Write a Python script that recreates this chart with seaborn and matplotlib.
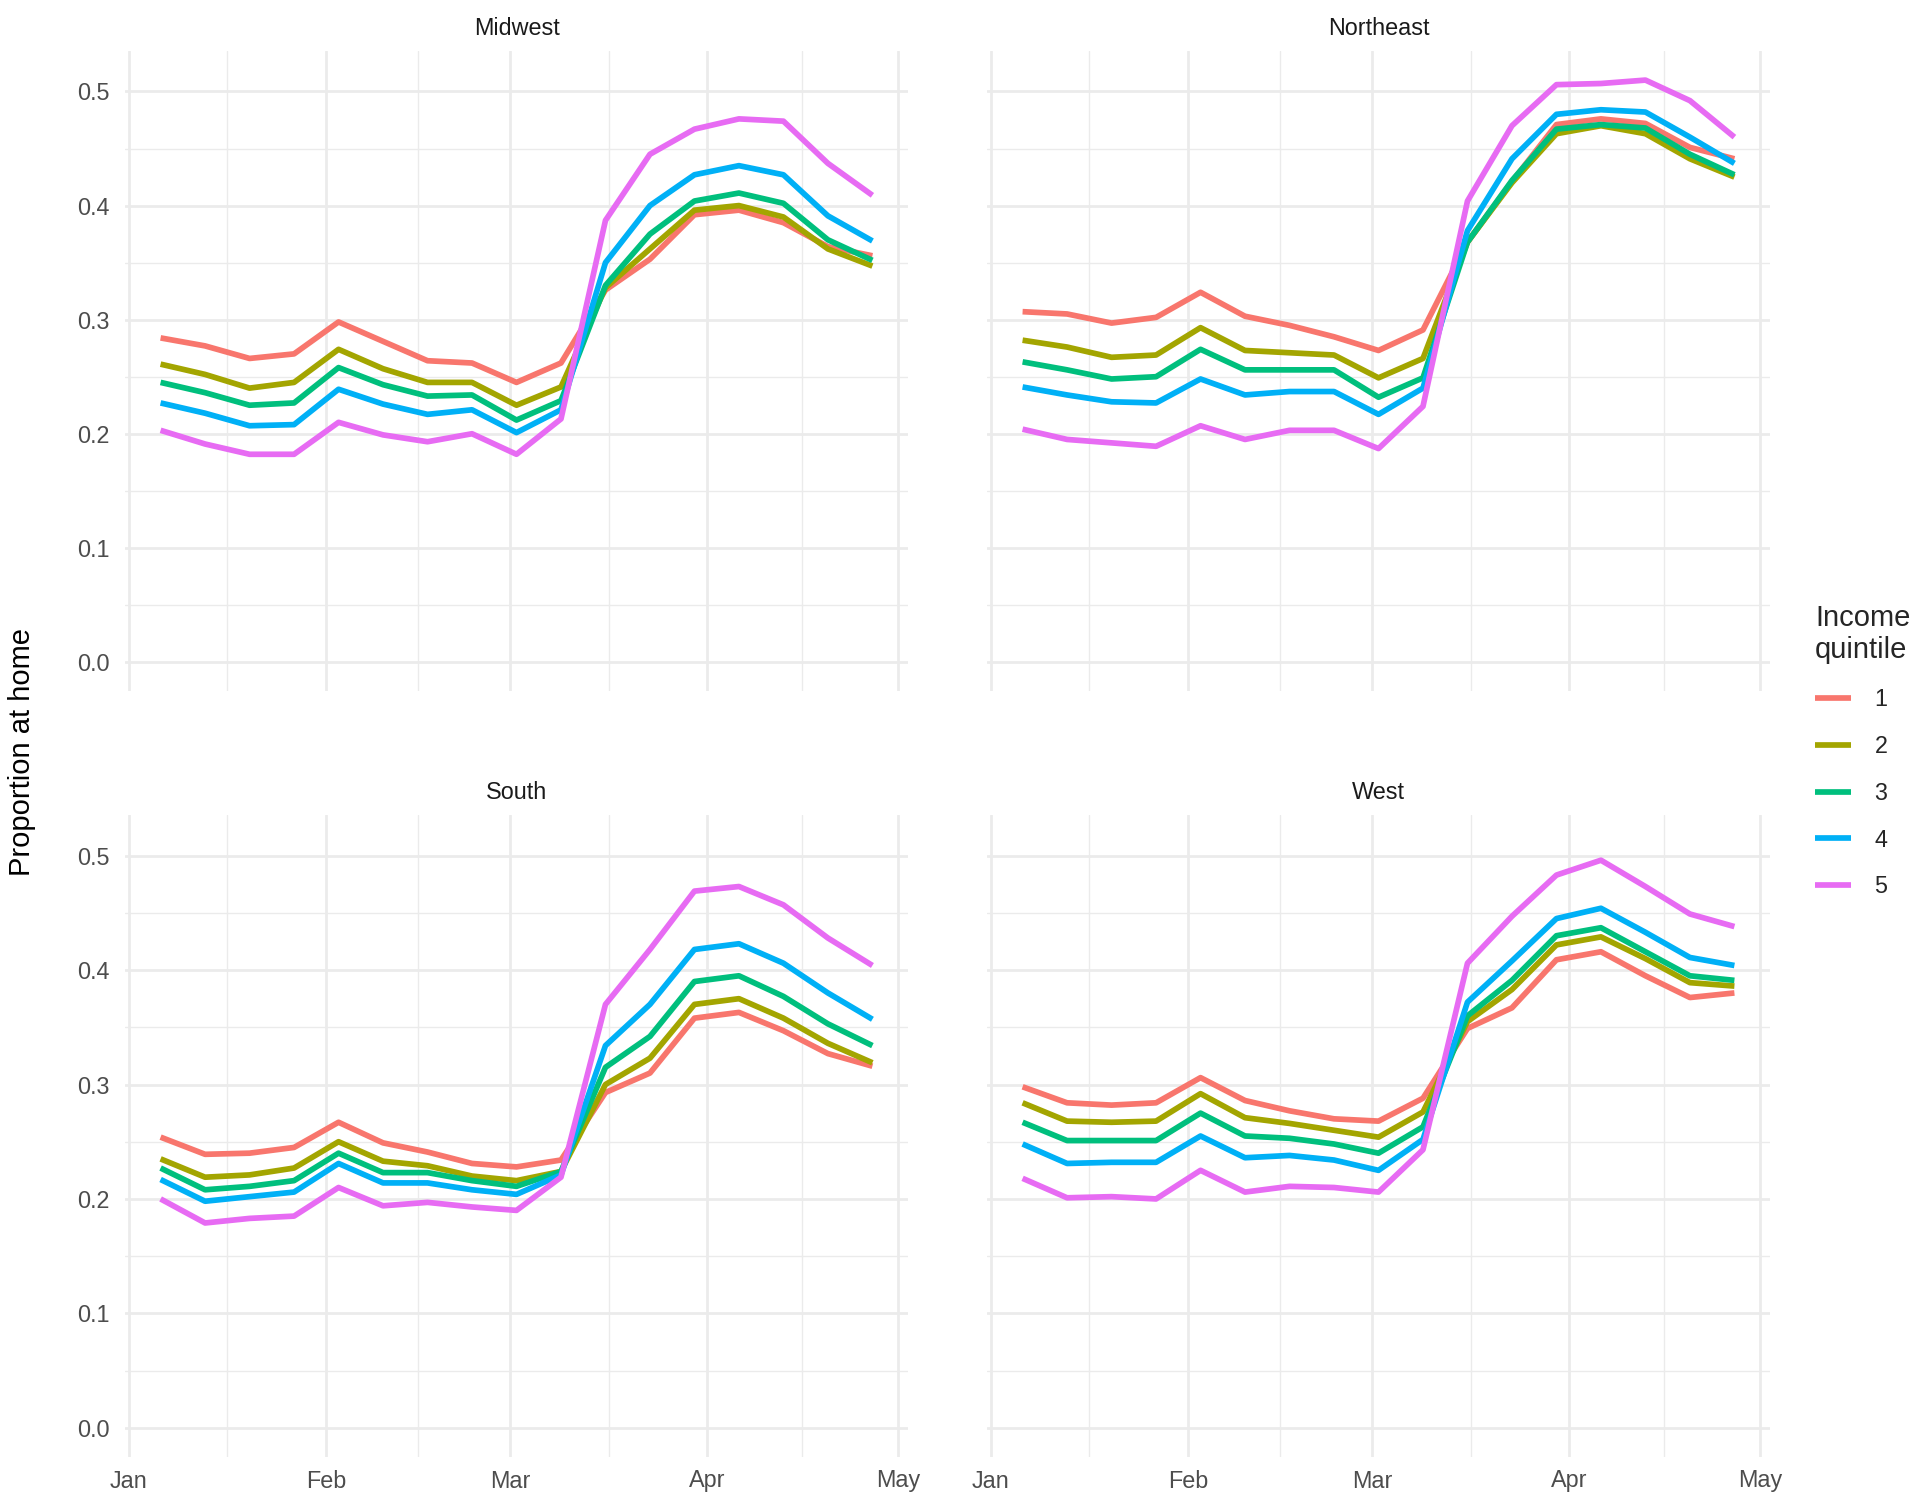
import matplotlib
matplotlib.use("Agg")
import matplotlib.pyplot as plt
import matplotlib.dates as mdates
from matplotlib.ticker import FixedLocator
import seaborn as sns
import pandas as pd

# ---------------- data ----------------
dates = ["2020-01-06", "2020-01-13", "2020-01-20", "2020-01-27", "2020-02-03",
         "2020-02-10", "2020-02-17", "2020-02-24", "2020-03-02", "2020-03-09",
         "2020-03-16", "2020-03-23", "2020-03-30", "2020-04-06", "2020-04-13",
         "2020-04-20", "2020-04-27"]
regions = ["Midwest", "Northeast", "South", "West"]
quintiles = ["1", "2", "3", "4", "5"]

midwest_q1 = [0.284, 0.277, 0.266, 0.270, 0.298, 0.281, 0.264, 0.262, 0.245, 0.262, 0.326, 0.353, 0.392, 0.396, 0.385, 0.364, 0.356]
midwest_q2 = [0.261, 0.252, 0.240, 0.245, 0.274, 0.257, 0.245, 0.245, 0.225, 0.241, 0.328, 0.362, 0.396, 0.400, 0.390, 0.362, 0.347]
midwest_q3 = [0.245, 0.236, 0.225, 0.227, 0.258, 0.243, 0.233, 0.234, 0.212, 0.229, 0.330, 0.375, 0.404, 0.411, 0.402, 0.370, 0.352]
midwest_q4 = [0.227, 0.218, 0.207, 0.208, 0.239, 0.226, 0.217, 0.221, 0.201, 0.221, 0.350, 0.400, 0.427, 0.435, 0.427, 0.391, 0.369]
midwest_q5 = [0.203, 0.191, 0.182, 0.182, 0.210, 0.199, 0.193, 0.200, 0.182, 0.213, 0.387, 0.445, 0.467, 0.476, 0.474, 0.437, 0.409]

northeast_q1 = [0.307, 0.305, 0.297, 0.302, 0.324, 0.303, 0.295, 0.285, 0.273, 0.291, 0.368, 0.421, 0.471, 0.476, 0.472, 0.451, 0.441]
northeast_q2 = [0.282, 0.276, 0.267, 0.269, 0.293, 0.273, 0.271, 0.269, 0.249, 0.266, 0.368, 0.420, 0.463, 0.470, 0.463, 0.441, 0.425]
northeast_q3 = [0.263, 0.256, 0.248, 0.250, 0.274, 0.256, 0.256, 0.256, 0.232, 0.249, 0.368, 0.422, 0.467, 0.471, 0.468, 0.445, 0.427]
northeast_q4 = [0.241, 0.234, 0.228, 0.227, 0.248, 0.234, 0.237, 0.237, 0.217, 0.240, 0.378, 0.441, 0.480, 0.484, 0.482, 0.460, 0.437]
northeast_q5 = [0.204, 0.195, 0.192, 0.189, 0.207, 0.195, 0.203, 0.203, 0.187, 0.224, 0.404, 0.470, 0.506, 0.507, 0.510, 0.492, 0.460]

south_q1 = [0.254, 0.239, 0.240, 0.245, 0.267, 0.249, 0.241, 0.231, 0.228, 0.234, 0.293, 0.310, 0.358, 0.363, 0.347, 0.327, 0.316]
south_q2 = [0.235, 0.219, 0.221, 0.227, 0.250, 0.233, 0.229, 0.220, 0.216, 0.224, 0.300, 0.323, 0.370, 0.375, 0.358, 0.336, 0.319]
south_q3 = [0.227, 0.208, 0.211, 0.216, 0.240, 0.223, 0.223, 0.216, 0.211, 0.224, 0.315, 0.342, 0.390, 0.395, 0.377, 0.353, 0.334]
south_q4 = [0.217, 0.198, 0.202, 0.206, 0.231, 0.214, 0.214, 0.208, 0.204, 0.221, 0.334, 0.370, 0.418, 0.423, 0.406, 0.380, 0.357]
south_q5 = [0.200, 0.179, 0.183, 0.185, 0.210, 0.194, 0.197, 0.193, 0.190, 0.219, 0.370, 0.418, 0.469, 0.473, 0.457, 0.428, 0.404]

west_q1 = [0.298, 0.284, 0.282, 0.284, 0.306, 0.286, 0.277, 0.270, 0.268, 0.288, 0.349, 0.367, 0.409, 0.416, 0.395, 0.376, 0.380]
west_q2 = [0.284, 0.268, 0.267, 0.268, 0.292, 0.271, 0.266, 0.260, 0.254, 0.276, 0.355, 0.383, 0.422, 0.429, 0.410, 0.389, 0.386]
west_q3 = [0.267, 0.251, 0.251, 0.251, 0.275, 0.255, 0.253, 0.248, 0.240, 0.263, 0.360, 0.391, 0.430, 0.437, 0.416, 0.395, 0.391]
west_q4 = [0.248, 0.231, 0.232, 0.232, 0.255, 0.236, 0.238, 0.234, 0.225, 0.252, 0.372, 0.408, 0.445, 0.454, 0.433, 0.411, 0.404]
west_q5 = [0.218, 0.201, 0.202, 0.200, 0.225, 0.206, 0.211, 0.210, 0.206, 0.243, 0.406, 0.447, 0.483, 0.496, 0.473, 0.449, 0.438]

month_ticks = ["2020-01-01", "2020-02-01", "2020-03-01", "2020-04-01", "2020-05-01"]
month_labels = ["Jan", "Feb", "Mar", "Apr", "May"]
y_ticks = [0.0, 0.1, 0.2, 0.3, 0.4, 0.5]
y_tick_labels = ["0.0", "0.1", "0.2", "0.3", "0.4", "0.5"]

series = {
    "Midwest": [midwest_q1, midwest_q2, midwest_q3, midwest_q4, midwest_q5],
    "Northeast": [northeast_q1, northeast_q2, northeast_q3, northeast_q4, northeast_q5],
    "South": [south_q1, south_q2, south_q3, south_q4, south_q5],
    "West": [west_q1, west_q2, west_q3, west_q4, west_q5],
}

rows = []
for reg in regions:
    for q, vals in zip(quintiles, series[reg]):
        for d, v in zip(dates, vals):
            rows.append({"region": reg, "quintile": q, "date": pd.Timestamp(d), "value": v})
df = pd.DataFrame(rows)

palette = {"1": "#F8766D", "2": "#A3A500", "3": "#00BF7D", "4": "#00B0F6", "5": "#E76BF3"}

# ---------------- style ----------------
sns.set_theme(style="white")
plt.rcParams["font.family"] = ["Liberation Sans", "DejaVu Sans"]

W, H = 1920, 1503
fig = plt.figure(figsize=(W / 100, H / 100), dpi=100)


def frac_box(x0, x1, ytop, ybot):
    return [x0 / W, 1 - ybot / H, (x1 - x0) / W, (ybot - ytop) / H]


boxes = {
    "Midwest": frac_box(125, 908, 51, 691),
    "Northeast": frac_box(987, 1770, 51, 691),
    "South": frac_box(125, 908, 815, 1457),
    "West": frac_box(987, 1770, 815, 1457),
}

d0 = mdates.date2num(pd.Timestamp(dates[0]))
d1 = mdates.date2num(pd.Timestamp(dates[-1]))
span = d1 - d0
xlim = (d0 - 0.05 * span, d1 + 0.05 * span)
ymax = df["value"].max()
ylim = (0 - 0.05 * ymax, ymax + 0.05 * ymax)

major_x = [mdates.date2num(pd.Timestamp(t)) for t in month_ticks]
minor_x = [(a + b) / 2 for a, b in zip(major_x[:-1], major_x[1:])]
minor_y = [0.05, 0.15, 0.25, 0.35, 0.45]

grid_col = "#EBEBEB"
LW = 4.1
axes = {}
for reg in regions:
    ax = fig.add_axes(boxes[reg])
    axes[reg] = ax
    sub = df[df["region"] == reg]
    sns.lineplot(data=sub, x="date", y="value", hue="quintile", hue_order=quintiles,
                 palette=palette, linewidth=LW, ax=ax, legend=(reg == "Midwest"),
                 estimator=None, sort=True)
    for ln in ax.get_lines():
        ln.set_solid_capstyle("butt")
        ln.set_solid_joinstyle("round")
    ax.set_xlim(*xlim)
    ax.set_ylim(*ylim)
    ax.xaxis.set_major_locator(FixedLocator(major_x))
    ax.xaxis.set_minor_locator(FixedLocator(minor_x))
    ax.yaxis.set_major_locator(FixedLocator(y_ticks))
    ax.yaxis.set_minor_locator(FixedLocator(minor_y))
    ax.set_xticklabels(month_labels)
    ax.set_yticklabels(y_tick_labels)
    ax.grid(which="major", color=grid_col, linewidth=2.0)
    ax.grid(which="minor", color=grid_col, linewidth=1.0)
    ax.set_axisbelow(True)
    for s in ax.spines.values():
        s.set_visible(False)
    ax.tick_params(which="both", length=0, labelsize=16.8, labelcolor="#4D4D4D")
    ax.tick_params(axis="y", pad=11)
    ax.tick_params(axis="x", pad=9)
    ax.set_xlabel("")
    ax.set_ylabel("")
    if reg in ("Midwest", "Northeast"):
        ax.tick_params(axis="x", labelbottom=False)
    if reg in ("Northeast", "West"):
        ax.tick_params(axis="y", labelleft=False)
    ax.annotate(reg, xy=(0.5, 1.0), xycoords="axes fraction", xytext=(0, 16.0),
                textcoords="offset points", ha="center", va="center",
                fontsize=16.8, color="#1A1A1A")

handles, labels = axes["Midwest"].get_legend_handles_labels()
axes["Midwest"].get_legend().remove()

leg = fig.legend(handles, labels, title="Income\nquintile", loc="upper left",
                 bbox_to_anchor=(1815 / W, 1 - 604 / H), frameon=False,
                 fontsize=16.8, title_fontsize=21, handlelength=1.55,
                 handletextpad=1.0, labelspacing=1.02, borderpad=0,
                 borderaxespad=0)
leg._legend_box.align = "left"
for line in leg.get_lines():
    line.set_linewidth(LW)
    line.set_solid_capstyle("butt")

fig.text(22 / W, 0.5, "Proportion at home", rotation=90, ha="center", va="center",
         fontsize=21, color="black")

fig.savefig("out.png", dpi=100, facecolor="white")
